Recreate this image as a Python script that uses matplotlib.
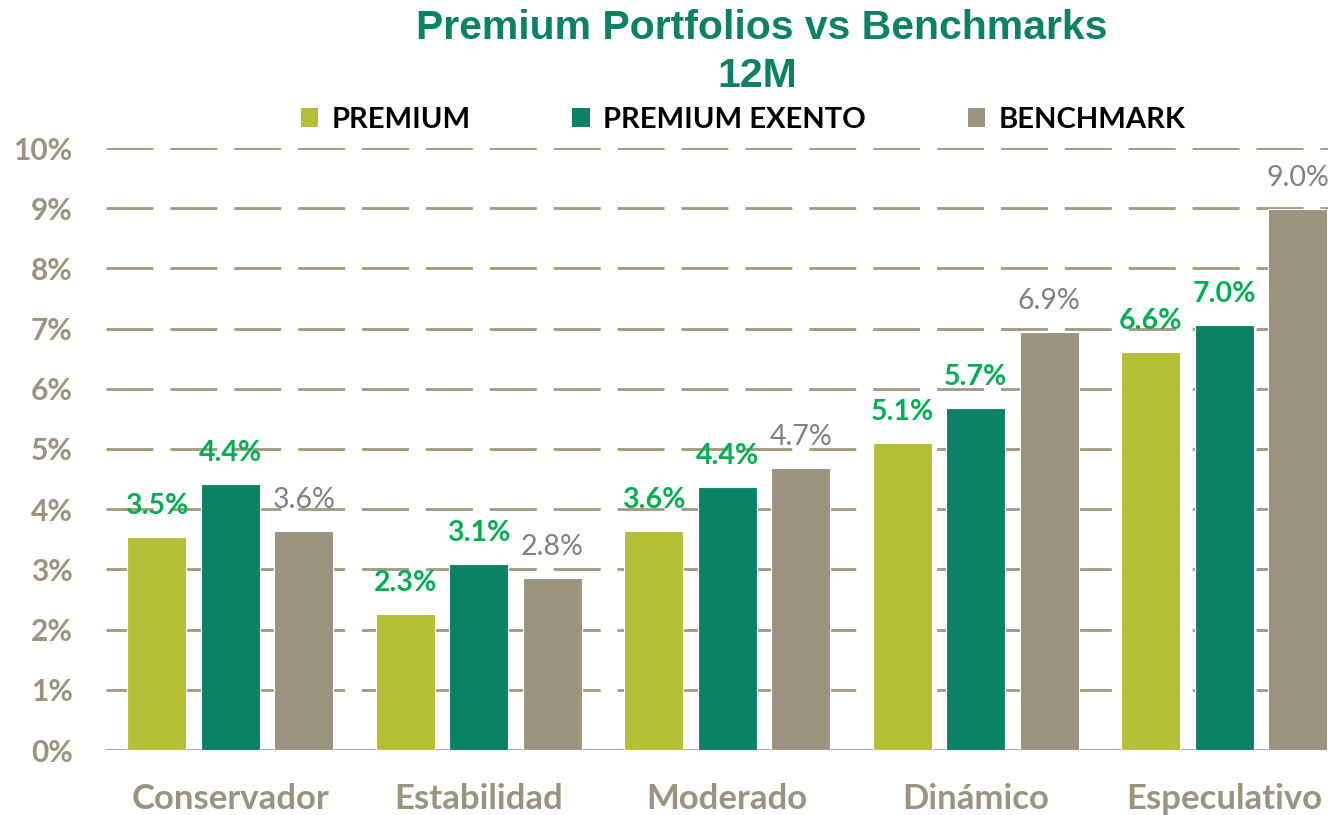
import matplotlib
matplotlib.use("Agg")
import matplotlib.pyplot as plt
from matplotlib.patches import Patch
import numpy as np

categories = ["Conservador", "Estabilidad", "Moderado", "Dinámico", "Especulativo"]
premium = [3.5, 2.3, 3.6, 5.1, 6.6]
premium_exento = [4.4, 3.1, 4.4, 5.7, 7.0]
benchmark = [3.6, 2.8, 4.7, 6.9, 9.0]
# bar heights as drawn (slightly more precise than labels)
premium_h = [3.54, 2.26, 3.64, 5.10, 6.61]
exento_h = [4.42, 3.09, 4.37, 5.68, 7.06]
bench_h = [3.64, 2.86, 4.68, 6.94, 8.99]
series_names = ["PREMIUM", "PREMIUM EXENTO", "BENCHMARK"]
yticks = list(range(0, 11))
ytick_labels = [f"{v}%" for v in yticks]

c_prem = "#B5BF36"
c_ex = "#0B8266"
c_bench = "#9B937D"
c_tick = "#9B937D"
c_lab_green = "#00B050"
c_lab_gray = "#808080"

plt.rcParams["lines.scale_dashes"] = False
W, H = 1328, 815
fig = plt.figure(figsize=(W / 100, H / 100), dpi=100)
left_px, right_px, top_px, bot_px = 106, 1348.5, 148, 750
ax = fig.add_axes([left_px / W, 1 - bot_px / H, (right_px - left_px) / W, (bot_px - top_px) / H])
ax.set_xlim(-0.5, 4.5)
ax.set_ylim(0, 10)

x = np.arange(len(categories))
step = 0.296
bw = 0.236
font = "Lato"
for vals, hs, col, off, lc, wt in [
    (premium, premium_h, c_prem, -step, c_lab_green, "bold"),
    (premium_exento, exento_h, c_ex, 0, c_lab_green, "bold"),
    (benchmark, bench_h, c_bench, step, c_lab_gray, "normal"),
]:
    bars = ax.bar(x + off, hs, width=bw, color=col, edgecolor="white", linewidth=0.8, zorder=3)
    for b, v in zip(bars, vals):
        ax.annotate(f"{v:.1f}%", (b.get_x() + b.get_width() / 2, b.get_height()),
                    xytext=(0, 16.5), textcoords="offset points", ha="center", va="baseline",
                    fontsize=20.5, color=lc, fontweight=wt, family=font, zorder=4)

for v in yticks[1:]:
    ax.axhline(v, color="#A09880", lw=2, dashes=(33.8, 12.2), zorder=1)
ax.axhline(0, color="#999999", lw=2, zorder=2)

for s in ax.spines.values():
    s.set_visible(False)
ax.set_yticks(yticks)
ax.set_yticklabels(ytick_labels, fontsize=21.5, fontweight="bold", color=c_tick, family=font)
ax.set_xticks(x)
ax.set_xticklabels(categories, fontsize=25, fontweight="bold", color=c_tick, family=font)
ax.tick_params(axis="y", length=0, pad=24)
ax.tick_params(axis="x", length=0, pad=24)

fig.text(762 / W, 1 - 28 / H, "Premium Portfolios vs Benchmarks", ha="center", va="center",
         fontsize=29.5, fontweight="bold", color=c_ex, family="Liberation Sans")
fig.text(757 / W, 1 - 76 / H, "12M", ha="center", va="center",
         fontsize=29.5, fontweight="bold", color=c_ex, family="Liberation Sans")

handles = [Patch(facecolor=c, edgecolor="none") for c in (c_prem, c_ex, c_bench)]
leg = fig.legend(handles, series_names, loc="center", bbox_to_anchor=(743 / W, 1 - 120 / H),
                 ncol=3, frameon=False, handlelength=0.6, handleheight=0.65, handletextpad=0.45,
                 columnspacing=3.5, prop={"family": font, "weight": "bold", "size": 21})

fig.savefig("out.png", dpi=100)
